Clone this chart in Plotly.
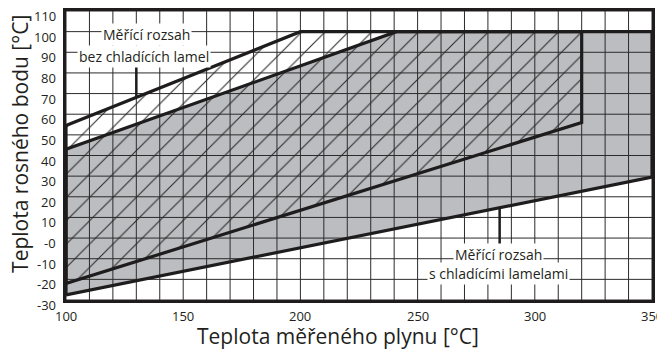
import numpy as np
import plotly.graph_objects as go

# ---- data ----
x_ticks = [100, 150, 200, 250, 300, 350]
y_ticks = [-30, -20, -10, 0, 10, 20, 30, 40, 50, 60, 70, 80, 90, 100, 110]
y_tick_text = ["-30", "-20", "-10", "-0", "10", "20", "30", "40", "50",
               "60", "70", "80", "90", "100", "110"]
x_grid = [100, 110, 120, 130, 140, 150, 160, 170, 180, 190, 200, 210, 220,
          230, 240, 250, 260, 270, 280, 290, 300, 310, 320, 330, 340, 350]
y_grid = y_ticks

# measuring range without cooling fins (hatched)
hatch_x = [100, 100, 200, 320, 320]
hatch_y = [-22, 54.5, 100, 100, 56]
# measuring range with cooling fins (grey)
grey_x = [100, 100, 241, 350, 350]
grey_y = [-27.5, 43, 100, 100, 29.5]

label_top_1 = "Měřící rozsah"
label_top_2 = "bez chladících lamel"
label_bot_1 = "Měřící rozsah"
label_bot_2 = "s chladícími lamelami"

X_RANGE = [100, 350]
Y_RANGE = [-30, 110]

FONT = "Open Sans"
INK = "#231f20"
LINE = "#1e1c1d"

fig = go.Figure()

# grey fill
fig.add_trace(go.Scatter(x=grey_x + [grey_x[0]], y=grey_y + [grey_y[0]],
                         mode="none", fill="toself", fillcolor="#bcbdc1",
                         hoverinfo="skip", showlegend=False))
# hatched fill (pattern lines only, transparent background)
fig.add_trace(go.Scatter(x=hatch_x + [hatch_x[0]], y=hatch_y + [hatch_y[0]],
                         mode="none", fill="toself",
                         fillcolor="#2a2a2a",
                         fillpattern=dict(shape="/", size=16.5, solidity=0.065,
                                          fillmode="replace"),
                         hoverinfo="skip", showlegend=False))

# grid drawn above the fills
gx, gy = [], []
for v in x_grid:
    gx += [v, v, None]
    gy += [Y_RANGE[0], Y_RANGE[1], None]
for v in y_grid:
    gx += [X_RANGE[0], X_RANGE[1], None]
    gy += [v, v, None]
fig.add_trace(go.Scatter(x=gx, y=gy, mode="lines",
                         line=dict(color="#2b2b2b", width=1),
                         hoverinfo="skip", showlegend=False))

# boundary lines
for xs, ys in ((grey_x, grey_y), (hatch_x, hatch_y)):
    fig.add_trace(go.Scatter(x=xs + [xs[0]], y=ys + [ys[0]], mode="lines",
                             line=dict(color=LINE, width=3.2),
                             hoverinfo="skip", showlegend=False))

# leader lines
lead1_x = 130
lead1_y0 = float(np.interp(lead1_x, hatch_x[1:3], hatch_y[1:3]))
lead2_x = 285
lead2_y0 = float(np.interp(lead2_x, [grey_x[0], grey_x[-1]], [grey_y[0], grey_y[-1]]))
fig.add_shape(type="line", x0=lead1_x, x1=lead1_x, y0=lead1_y0, y1=83,
              line=dict(color=LINE, width=2.5), layer="above")
fig.add_shape(type="line", x0=lead2_x, x1=lead2_x, y0=lead2_y0, y1=-3.5,
              line=dict(color=LINE, width=2.5), layer="above")

ann_font = dict(family=FONT, size=14, color=INK)
for txt, ax, ay in ((label_top_1, 134.5, 98.5), (label_top_2, 133.3, 88.2),
                    (label_bot_1, 284.5, -8), (label_bot_2, 284.5, -17)):
    fig.add_annotation(x=ax, y=ay, text=txt, showarrow=False, font=ann_font,
                       bgcolor="white", borderpad=1)

tick_font = dict(family=FONT, size=13, color=INK)
# y tick labels (sit slightly below their grid lines, as in the reference)
for v, t in zip(y_ticks, y_tick_text):
    fig.add_annotation(xref="paper", yref="y", x=0, y=v, text=t,
                       showarrow=False, font=tick_font, xanchor="right",
                       yanchor="middle", xshift=-8, yshift=-5)
# x tick labels
for v in x_ticks:
    fig.add_annotation(xref="x", yref="paper", x=v, y=0, text=str(v),
                       showarrow=False, font=tick_font, xanchor="center",
                       yanchor="top", yshift=-5)

# axis titles
fig.add_annotation(xref="paper", yref="paper", x=0.465, y=-0.124,
                   text="Teplota měřeného plynu [°C]", showarrow=False,
                   font=dict(family=FONT, size=21, color=INK),
                   xanchor="center", yanchor="middle")
fig.add_annotation(xref="paper", yref="paper", x=-0.0785, y=0.54,
                   text="Teplota rosného bodu [°C]", showarrow=False,
                   textangle=-90,
                   font=dict(family=FONT, size=21, color=INK),
                   xanchor="center", yanchor="middle")

fig.update_layout(
    width=657, height=349,
    margin=dict(l=66, r=5, t=11, b=49, autoexpand=False),
    paper_bgcolor="white", plot_bgcolor="white",
    showlegend=False,
    xaxis=dict(range=X_RANGE, showticklabels=False, automargin=False,
               showgrid=False, zeroline=False, showline=True, mirror=True,
               linecolor=LINE, linewidth=2.5, ticks=""),
    yaxis=dict(range=Y_RANGE, showticklabels=False, automargin=False,
               showgrid=False, zeroline=False, showline=True,
               mirror=True, linecolor=LINE, linewidth=2.5, ticks=""),
)

fig.write_html("out.html",
               config={"displayModeBar": False},
               post_script="document.body.style.margin='0';"
                           "document.body.style.overflow='hidden';")
